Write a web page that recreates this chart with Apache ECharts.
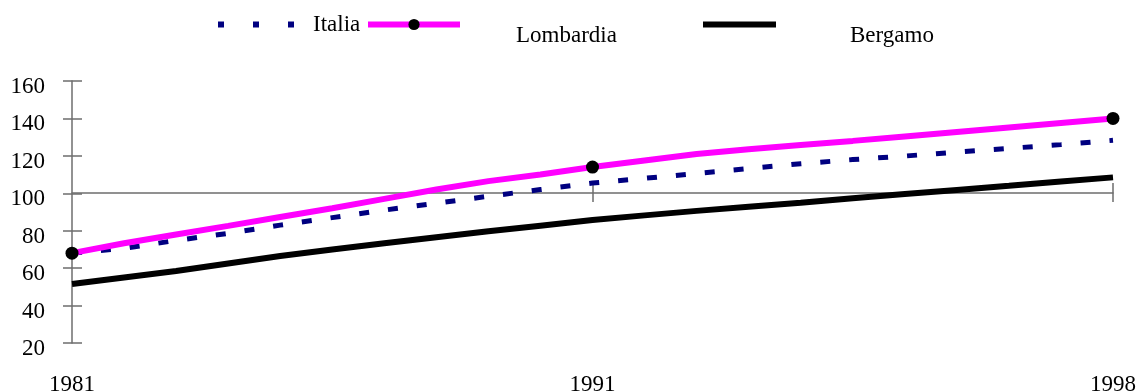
<!DOCTYPE html>
<html>
<head>
<meta charset="utf-8">
<script src="https://cdn.jsdelivr.net/npm/echarts@6/dist/echarts.min.js"></script>
<style>html,body{margin:0;padding:0;background:#fff}#c{width:1136px;height:392px}</style>
</head>
<body>
<div id="c"></div>
<script>
// Category slots: 1981 .. 1991 .. 1998 (equal spacing between the labelled years)
var categories = ['1981','','','','','','','','','','1991','','','','','','','','','','1998'];
var labelIdx = [0, 10, 20];
var italia    = [68, 70.6, 74.8, 78.6, 83, 87, 91, 94.7, 98.4, 102, 105.5, 108, 110.6, 113.2, 115.8, 118, 119.9, 122, 124, 126, 128.3];
var lombardia = [68, 73.3, 78, 82.6, 87.3, 92, 97, 102, 106.5, 110, 114, 117.5, 121, 123.5, 125.8, 128, 130.4, 132.8, 135.2, 137.6, 140];
var bergamo   = [51.5, 55, 58.5, 62.5, 66.5, 70, 73.3, 76.5, 79.7, 82.7, 85.7, 88.2, 90.6, 92.8, 95, 97.4, 99.6, 101.8, 104, 106.3, 108.5];
var markerIdx = [0, 10, 20];
var yTicks = {min: 20, max: 160, interval: 20};

var FONT = 'Liberation Serif';
var AX = '#6e6e6e';
var chart = echarts.init(document.getElementById('c'));
function isLabel(i){ return labelIdx.indexOf(i) >= 0; }
function isTick(i){ return i === 10 || i === 20; }

var lombData = lombardia.map(function(v, i){
  return markerIdx.indexOf(i) >= 0 ? {value: v} : {value: v, symbol: 'none'};
});

var legText = {fontFamily: FONT, fontSize: 23, color: '#000', lineHeight: 22};
var xBase = {type: 'category', data: categories, boundaryGap: false, gridIndex: 0};
chart.setOption({
  animation: false,
  grid: {left: 72, right: 23, top: 81, bottom: 49, containLabel: false, outerBoundsMode: 'none'},
  legend: [
    {left: 210, top: 8, padding: 5, itemWidth: 80, itemHeight: 14,
     data: [{name: 'Italia', itemStyle: {opacity: 0}, lineStyle: {width: 6, type: [6, 29]}}],
     textStyle: Object.assign({padding: [0,0,0,10]}, legText)},
    {left: 365, top: 2, padding: 0, itemWidth: 92, itemHeight: 14,
     data: [{name: 'Lombardia', lineStyle: {width: 6}}],
     itemStyle: {borderWidth: 0},
     formatter: function(n){ return '\n' + n; },
     textStyle: Object.assign({padding: [0,0,0,51]}, legText)},
    {left: 700, top: 2, padding: 0, itemWidth: 73, itemHeight: 14,
     data: [{name: 'Bergamo', itemStyle: {opacity: 0}, lineStyle: {width: 6}}],
     formatter: function(n){ return '\n' + n; },
     textStyle: Object.assign({padding: [0,0,0,69]}, legText)}
  ],
  xAxis: [
    Object.assign({}, xBase, {
      position: 'bottom',
      axisLine: {show: false},
      axisTick: {show: false},
      splitLine: {show: false},
      axisLabel: {interval: function(i){ return isLabel(i); }, margin: 30,
        fontFamily: FONT, fontSize: 23, color: '#000'}
    }),
    Object.assign({}, xBase, {
      position: 'bottom', offset: -150,
      axisLine: {show: true, onZero: false, lineStyle: {color: AX, width: 1.5}},
      axisTick: {show: true, inside: false, length: 9, interval: function(i){ return isTick(i); }, lineStyle: {color: AX, width: 1.5}},
      axisLabel: {show: false}, splitLine: {show: false}
    }),
    Object.assign({}, xBase, {
      position: 'bottom', offset: -150,
      axisLine: {show: false, onZero: false},
      axisTick: {show: true, inside: true, length: 10, interval: function(i){ return isTick(i); }, lineStyle: {color: AX, width: 1.5}},
      axisLabel: {show: false}, splitLine: {show: false}
    })
  ],
  yAxis: [
    {type: 'value', min: yTicks.min, max: yTicks.max, interval: yTicks.interval, position: 'left',
     axisLine: {show: true, lineStyle: {color: AX, width: 1.5}},
     axisTick: {show: true, inside: false, length: 9, lineStyle: {color: AX, width: 1.5}},
     splitLine: {show: false},
     axisLabel: {margin: 27, formatter: function(v){ return '{a|' + v + '}'; },
       rich: {a: {fontFamily: FONT, fontSize: 23, color: '#000', padding: [12,0,0,0]}}}},
    {type: 'value', min: yTicks.min, max: yTicks.max, interval: yTicks.interval, position: 'left',
     axisLine: {show: false},
     axisTick: {show: true, inside: true, length: 10, lineStyle: {color: AX, width: 1.5}},
     splitLine: {show: false}, axisLabel: {show: false}}
  ],
  series: [
    {name: 'Italia', type: 'line', data: italia, xAxisIndex: 0, yAxisIndex: 0,
     symbol: 'none', itemStyle: {color: '#000080'},
     lineStyle: {color: '#000080', width: 5, type: [10, 19]}, z: 3},
    {name: 'Lombardia', type: 'line', data: lombData, xAxisIndex: 0, yAxisIndex: 0,
     symbol: 'circle', symbolSize: 13, showAllSymbol: true,
     itemStyle: {color: '#000', borderWidth: 0},
     lineStyle: {color: '#ff00ff', width: 6}, z: 4},
    {name: 'Bergamo', type: 'line', data: bergamo, xAxisIndex: 0, yAxisIndex: 0,
     symbol: 'none', itemStyle: {color: '#000'},
     lineStyle: {color: '#000', width: 6}, z: 3}
  ]
});
</script>
</body>
</html>
